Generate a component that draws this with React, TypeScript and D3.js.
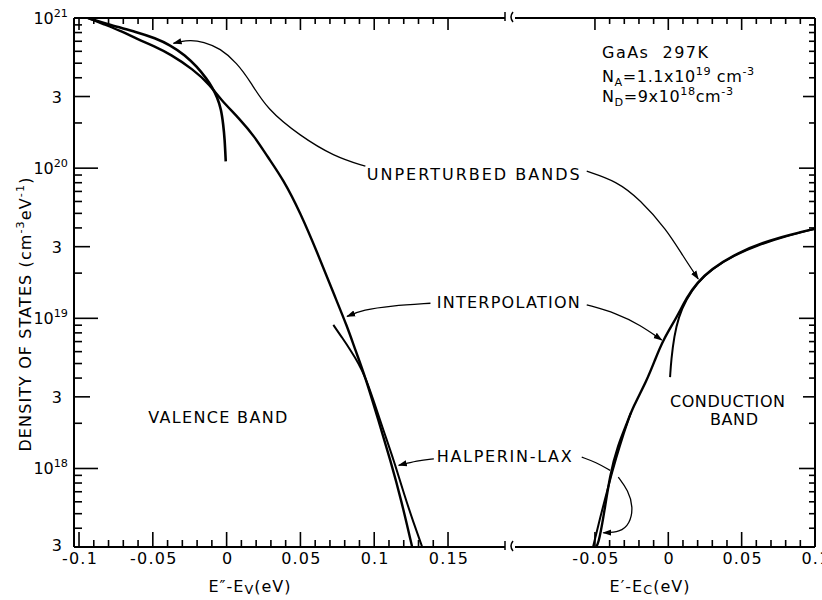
import React, { useEffect, useRef } from "react";
import * as d3 from "d3";

// GaAs 297K density of states
// each point: [energy (eV), density (cm^-3 eV^-1)]
const valenceUnperturbed = [
  [-0.0939, 1.0e21], [-0.079, 8.98e20], [-0.0607, 8.06e20], [-0.0484, 7.35e20],
  [-0.0383, 6.61e20], [-0.0281, 5.66e20], [-0.0199, 4.71e20], [-0.0138, 3.97e20],
  [-0.0098, 3.46e20], [-0.0064, 2.97e20], [-0.0037, 2.47e20], [-0.0023, 1.96e20],
  [-0.0013, 1.56e20], [-0.0006, 1.11e20],
];
const valenceInterpolation = [
  [-0.0939, 1.0e21], [-0.0837, 9.12e20], [-0.0722, 8.25e20], [-0.0606, 7.24e20],
  [-0.0484, 6.45e20], [-0.0383, 5.75e20], [-0.0227, 4.56e20], [-0.0111, 3.57e20],
  [-0.0043, 2.88e20], [0.0092, 2.11e20], [0.0194, 1.6e20], [0.0275, 1.2e20],
  [0.0384, 8.41e19], [0.0499, 5.06e19], [0.0615, 2.73e19], [0.0723, 1.48e19],
  [0.0818, 8.77e18], [0.0872, 6.15e18], [0.094, 4.06e18], [0.1028, 2.1e18],
  [0.111, 1.13e18], [0.1184, 6.12e17], [0.1257, 3.0e17],
];
const valenceHalperinLax = [
  [0.0723, 9.04e18], [0.0784, 7.4e18], [0.0839, 6.15e18], [0.0893, 5.04e18],
  [0.094, 4.06e18], [0.0995, 2.85e18], [0.1062, 1.8e18], [0.1137, 1.1e18],
  [0.1205, 6.61e17], [0.1266, 4.37e17], [0.1325, 3.0e17],
];
const conductionUnperturbed = [
  [0.0012, 4.06e18], [0.002, 5.3e18], [0.004, 7.6e18], [0.007, 1.02e19],
  [0.012, 1.33e19], [0.02, 1.74e19], [0.03, 2.14e19], [0.045, 2.63e19],
  [0.06, 3.04e19], [0.08, 3.52e19], [0.1, 3.94e19],
];
const conductionInterpolation = [
  [-0.0493, 3.0e17], [-0.0477, 3.15e17], [-0.0445, 4.5e17], [-0.0397, 9.23e17],
  [-0.0343, 1.43e18], [-0.0282, 2.0e18], [-0.0241, 2.56e18], [-0.0145, 3.88e18],
  [-0.0091, 5.28e18], [-0.0036, 7.18e18], [0.0059, 1.02e19], [0.0127, 1.39e19],
  [0.0196, 1.72e19], [0.0284, 2.1e19], [0.0468, 2.73e19], [0.0693, 3.34e19],
  [0.0918, 3.78e19], [0.1, 3.96e19],
];
const conductionHalperinLax = [
  [-0.0513, 3.0e17], [-0.0466, 4.65e17], [-0.0411, 7.48e17], [-0.0356, 1.17e18],
  [-0.0302, 1.74e18], [-0.0254, 2.37e18],
];

// label leader lines, same units (the last point is the arrow tip)
const leaderUnperturbedValence = [
  [0.094, 1.03e20], [0.0725, 1.2e20], [0.0499, 1.64e20], [0.0273, 2.47e20],
  [0.016, 3.79e20], [0.007, 5.02e20], [-0.0043, 6.28e20], [-0.0157, 6.95e20],
  [-0.0247, 7.13e20], [-0.0315, 6.97e20], [-0.036, 6.78e20],
];
const leaderUnperturbedConduction = [
  [-0.0556, 9.55e19], [-0.0352, 8.19e19], [-0.0193, 6.18e19], [-0.0011, 3.9e19],
  [0.0102, 2.58e19], [0.0204, 1.83e19],
];
const leaderInterpValence = [
  [0.1381, 1.26e19], [0.111, 1.21e19], [0.0927, 1.14e19], [0.0816, 1.03e19],
];
const leaderInterpConduction = [
  [-0.0556, 1.23e19], [-0.0352, 1.08e19], [-0.0193, 9.04e18], [-0.0045, 7.18e18],
];
const leaderHLValence = [
  [0.1404, 1.16e18], [0.1291, 1.13e18], [0.1166, 1.05e18],
];
// broken where it crosses the conduction curves
const leaderHLConductionIn = [
  [-0.059, 1.19e18], [-0.0493, 1.1e18], [-0.0397, 9.71e17],
];
const leaderHLConductionOut = [
  [-0.0341, 8.77e17], [-0.0273, 7.14e17], [-0.0239, 5.53e17], [-0.0262, 4.28e17],
  [-0.033, 3.76e17], [-0.0443, 3.73e17],
];

// axis ticks
const decadeTicks = [1e18, 1e19, 1e20, 1e21];
const decadeExps = ["18", "19", "20", "21"];
const threeTicks = [3e17, 3e18, 3e19, 3e20];
const minorMultipliers = [2, 4, 5, 6, 7, 8, 9];
const leftXTicks = [-0.1, -0.05, 0, 0.05, 0.1, 0.15];
const leftXLabels = ["-0.1", "-0.05", "0", "0.05", "0.1", "0.15"];
const rightXTicks = [-0.05, 0, 0.05, 0.1];
const rightXLabels = ["-0.05", "0", "0.05", "0.1"];

const FONT = "DejaVu Sans, Liberation Sans, sans-serif";

type Part = { t: string; s?: "sup" | "sub" | "low" };

// text with super/subscripts as tspans
function richText(g: any, x: number, y: number, parts: Part[], size: number) {
  const t = g.append("text")
    .attr("x", x).attr("y", y)
    .attr("font-family", FONT)
    .attr("font-size", size)
    .attr("fill", "#000");
  let shift = 0;
  parts.forEach((p) => {
    const target = p.s === "sup" ? -7 : p.s === "sub" ? 4 : p.s === "low" ? 2 : 0;
    const fs = p.s === "sup" || p.s === "sub" ? size * 0.7 : p.s === "low" ? size * 0.8 : size;
    t.append("tspan").attr("dy", target - shift).attr("font-size", fs).text(p.t);
    shift = target;
  });
  return t;
}

export default function App() {
  const ref = useRef<SVGSVGElement>(null);

  useEffect(() => {
    const svg = d3.select(ref.current);
    svg.selectAll("*").remove();

    const top = 18, bottom = 547, left = 74, right = 815;
    const breakL = 505, breakR = 515;

    const xLeft = d3.scaleLinear().domain([-0.1034, 0.1886]).range([left, breakL]);
    const xRight = d3.scaleLinear().domain([-0.1045, 0.1]).range([breakR, right]);
    const y = d3.scaleLog().domain([3e17, 1e21]).range([bottom, top]);

    const defs = svg.append("defs");
    defs.append("clipPath").attr("id", "clipL")
      .append("rect").attr("x", left).attr("y", top).attr("width", breakL - left).attr("height", bottom - top);
    defs.append("clipPath").attr("id", "clipR")
      .append("rect").attr("x", breakR).attr("y", top).attr("width", right - breakR).attr("height", bottom - top);
    defs.append("marker")
      .attr("id", "arrow")
      .attr("viewBox", "0 0 10 10")
      .attr("refX", 9).attr("refY", 5)
      .attr("markerWidth", 9).attr("markerHeight", 9)
      .attr("markerUnits", "userSpaceOnUse")
      .attr("orient", "auto")
      .append("path").attr("d", "M0,1.5 L10,5 L0,8.5 z").attr("fill", "#000");

    // smooth through the read points (they are a bit noisy)
    const lineL = d3.line<number[]>().x((d) => xLeft(d[0])).y((d) => y(d[1])).curve(d3.curveBasis);
    const lineR = d3.line<number[]>().x((d) => xRight(d[0])).y((d) => y(d[1])).curve(d3.curveBasis);

    // frame
    const axis = svg.append("g").attr("stroke", "#000").attr("fill", "none").attr("stroke-width", 2);
    axis.append("line").attr("x1", left).attr("x2", left).attr("y1", top).attr("y2", bottom);
    axis.append("line").attr("x1", right).attr("x2", right).attr("y1", top).attr("y2", bottom);
    [top, bottom].forEach((yy) => {
      axis.append("line").attr("x1", left).attr("x2", breakL).attr("y1", yy).attr("y2", yy);
      axis.append("line").attr("x1", breakR).attr("x2", right).attr("y1", yy).attr("y2", yy);
      // break marks
      axis.append("path").attr("stroke-width", 1.5).attr("d", `M${breakL},${yy - 6}V${yy + 3}`);
      axis.append("path").attr("stroke-width", 1.5)
        .attr("d", `M${breakR - 2},${yy - 6}Q${breakR - 6},${yy - 1} ${breakR - 2},${yy + 4}`);
    });

    // y ticks
    const tg = svg.append("g").attr("stroke", "#000").attr("stroke-width", 1.6);
    const yMinors: number[] = [];
    [17, 18, 19, 20].forEach((e) => minorMultipliers.forEach((m) => {
      const v = m * Math.pow(10, e);
      if (v > 3e17 && v < 1e21) yMinors.push(v);
    }));
    const yTick = (v: number, lenL: number, lenR: number) => {
      tg.append("line").attr("x1", left).attr("x2", left + lenL).attr("y1", y(v)).attr("y2", y(v));
      tg.append("line").attr("x1", right).attr("x2", right - lenR).attr("y1", y(v)).attr("y2", y(v));
    };
    yMinors.forEach((v) => yTick(v, 8, 6));
    threeTicks.forEach((v) => yTick(v, 16, 12));
    decadeTicks.forEach((v) => yTick(v, 24, 16));

    // x ticks, every 0.01 eV, long every 0.05
    const xTick = (px: number, major: boolean) => {
      tg.append("line").attr("x1", px).attr("x2", px).attr("y1", bottom).attr("y2", bottom - (major ? 15 : 7));
      tg.append("line").attr("x1", px).attr("x2", px).attr("y1", top).attr("y2", top + (major ? 12 : 6));
    };
    d3.range(-10, 16).forEach((i) => xTick(xLeft(i / 100), i % 5 === 0));
    d3.range(-5, 11).forEach((i) => xTick(xRight(i / 100), i % 5 === 0));

    // tick labels
    const lab = svg.append("g");
    decadeTicks.forEach((v, i) => {
      richText(lab, 68, y(v) + 6, [{ t: "10" }, { t: decadeExps[i], s: "sup" }], 16).attr("text-anchor", "end");
    });
    threeTicks.forEach((v) => {
      lab.append("text").attr("x", 62).attr("y", y(v) + (v === 3e17 ? 4 : 6)).attr("text-anchor", "end")
        .attr("font-family", FONT).attr("font-size", 16).text("3");
    });
    const xLab = (px: number, s: string) =>
      lab.append("text").attr("x", px + 1).attr("y", 564).attr("text-anchor", "middle")
        .attr("font-family", FONT).attr("font-size", 16).attr("letter-spacing", 1.2).text(s);
    leftXTicks.forEach((v, i) => xLab(xLeft(v), leftXLabels[i]));
    rightXTicks.forEach((v, i) => xLab(xRight(v), rightXLabels[i]));

    // axis titles
    richText(lab, 250, 592, [{ t: "E\u2033-E" }, { t: "V", s: "low" }, { t: "(eV)" }], 16)
      .attr("text-anchor", "middle").attr("letter-spacing", 1);
    richText(lab, 650, 592, [{ t: "E\u2032-E" }, { t: "C", s: "low" }, { t: "(eV)" }], 16)
      .attr("text-anchor", "middle").attr("letter-spacing", 1);
    richText(lab, 0, 0, [
      { t: "DENSITY OF STATES (cm" }, { t: "-3", s: "sup" }, { t: "eV" }, { t: "-1", s: "sup" }, { t: ")" },
    ], 16)
      .attr("text-anchor", "middle").attr("letter-spacing", 1.1)
      .attr("transform", "translate(31,314) rotate(-90)");

    // curves
    const curvesL = svg.append("g").attr("clip-path", "url(#clipL)").attr("fill", "none").attr("stroke", "#000");
    curvesL.append("path").attr("d", lineL(valenceUnperturbed)).attr("stroke-width", 2.6);
    curvesL.append("path").attr("d", lineL(valenceInterpolation)).attr("stroke-width", 2.4);
    curvesL.append("path").attr("d", lineL(valenceHalperinLax)).attr("stroke-width", 2);

    const curvesR = svg.append("g").attr("clip-path", "url(#clipR)").attr("fill", "none").attr("stroke", "#000");
    curvesR.append("path").attr("d", lineR(conductionUnperturbed)).attr("stroke-width", 2);
    curvesR.append("path").attr("d", lineR(conductionInterpolation)).attr("stroke-width", 2.4);
    curvesR.append("path").attr("d", lineR(conductionHalperinLax)).attr("stroke-width", 2);

    // leaders
    const leaders = svg.append("g").attr("fill", "none").attr("stroke", "#000").attr("stroke-width", 1.3);
    [leaderUnperturbedValence, leaderInterpValence, leaderHLValence].forEach((d) =>
      leaders.append("path").attr("d", lineL(d)).attr("marker-end", "url(#arrow)"));
    [leaderUnperturbedConduction, leaderInterpConduction, leaderHLConductionOut].forEach((d) =>
      leaders.append("path").attr("d", lineR(d)).attr("marker-end", "url(#arrow)"));
    leaders.append("path").attr("d", lineR(leaderHLConductionIn));

    // labels
    const note = (x: number, yy: number, s: string, w: number, anchor = "start") =>
      lab.append("text").attr("x", x).attr("y", yy).attr("text-anchor", anchor)
        .attr("font-family", FONT).attr("font-size", 16)
        .attr("textLength", w).attr("lengthAdjust", "spacing").text(s);
    note(366.7, 180, "UNPERTURBED BANDS", 213);
    note(436.7, 308, "INTERPOLATION", 143);
    note(436.7, 462, "HALPERIN-LAX", 135);
    note(148.3, 423, "VALENCE BAND", 139);
    note(727.5, 407, "CONDUCTION", 115, "middle");
    note(734, 425, "BAND", 48, "middle");
    note(602, 58, "GaAs\u00a0\u00a0297K", 106);
    richText(lab, 602, 82, [
      { t: "N" }, { t: "A", s: "sub" }, { t: "=1.1x10" }, { t: "19", s: "sup" }, { t: " cm" }, { t: "-3", s: "sup" },
    ], 16).attr("letter-spacing", 0.6);
    richText(lab, 602, 102, [
      { t: "N" }, { t: "D", s: "sub" }, { t: "=9x10" }, { t: "18", s: "sup" }, { t: "cm" }, { t: "-3", s: "sup" },
    ], 16).attr("letter-spacing", 0.6);
  }, []);

  return (
    <svg
      ref={ref}
      width={822}
      height={600}
      style={{ position: "absolute", left: 0, top: 0, background: "#fff" }}
    />
  );
}
